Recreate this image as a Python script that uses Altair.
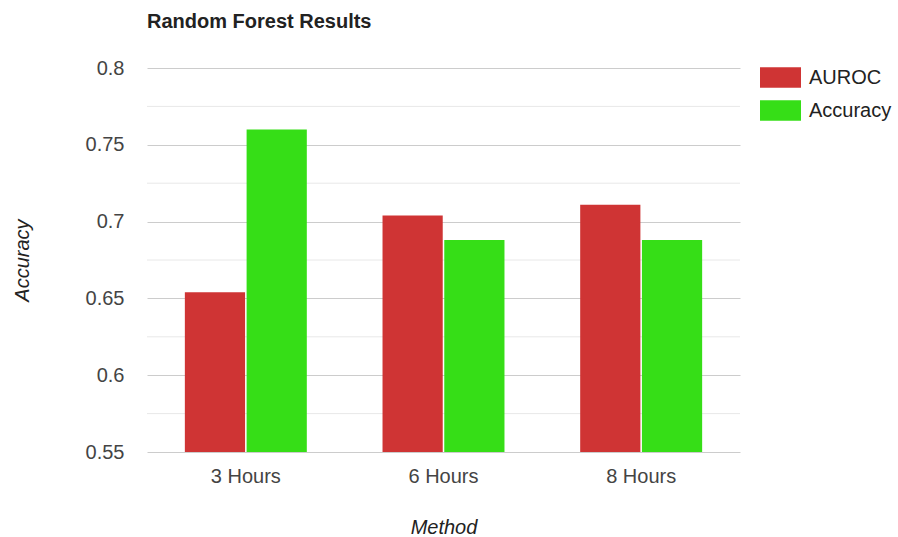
import altair as alt
import pandas as pd

# Random forest scores per prediction window
methods = ["3 Hours", "6 Hours", "8 Hours"]
series = ["AUROC", "Accuracy"]
auroc = [0.654, 0.704, 0.711]
accuracy = [0.760, 0.688, 0.688]

major_ticks = [0.55, 0.6, 0.65, 0.7, 0.75, 0.8]
minor_ticks = [0.575, 0.625, 0.675, 0.725, 0.775]
colors = ["#cf3434", "#36de17"]

rows = []
for m, a, c in zip(methods, auroc, accuracy):
    rows.append({"Method": m, "Series": "AUROC", "Value": a})
    rows.append({"Method": m, "Series": "Accuracy", "Value": c})
df = pd.DataFrame(rows)
minor_df = pd.DataFrame({"tick": minor_ticks})

W, H = 593, 384
FONT = "Liberation Sans"

y_scale = alt.Scale(domain=[0.55, 0.8], zero=False, nice=False)
y_axis = alt.Axis(
    title="Accuracy",
    values=major_ticks,
    format=".2~f",
    labelFont=FONT,
    labelFontSize=20,
    labelColor="#444444",
    labelPadding=23,
    ticks=False,
    domain=False,
    gridColor="#cccccc",
    gridWidth=1,
    titleFont=FONT,
    titleFontSize=20,
    titleFontStyle="italic",
    titleFontWeight="normal",
    titleColor="#222222",
    titleAngle=270,
    titleX=-125,
    titleY=H / 2,
    titleBaseline="middle",
    titleAlign="center",
)

# light minor gridlines between the labelled ones
minor = alt.Chart(minor_df).mark_rule(color="#e8e8e8", strokeWidth=1).encode(
    y=alt.Y("tick:Q", scale=y_scale, axis=y_axis)
)

bars = alt.Chart(df).mark_bar().encode(
    x=alt.X(
        "Method:N",
        sort=methods,
        scale=alt.Scale(paddingInner=0.383, paddingOuter=0.1915),
        axis=alt.Axis(
            title="Method",
            labelAngle=0,
            labelFont=FONT,
            labelFontSize=20,
            labelColor="#444444",
            labelPadding=14,
            ticks=False,
            domain=False,
            titleFont=FONT,
            titleFontSize=20,
            titleFontStyle="italic",
            titleFontWeight="normal",
            titleColor="#222222",
            titleX=W / 2,
            titleY=75,
            titleBaseline="middle",
        ),
    ),
    xOffset=alt.XOffset("Series:N", sort=series, scale=alt.Scale(paddingInner=0.025)),
    y=alt.Y("Value:Q", scale=y_scale, axis=y_axis),
    y2=alt.datum(0.55),
    color=alt.Color(
        "Series:N",
        sort=series,
        scale=alt.Scale(domain=series, range=colors),
        legend=alt.Legend(
            title=None,
            orient="none",
            legendX=613,
            legendY=-11,
            symbolType="M-1,-0.5L1,-0.5L1,0.5L-1,0.5Z",
            symbolSize=1681,
            symbolStrokeWidth=0,
            symbolOpacity=1,
            labelFont=FONT,
            labelFontSize=20,
            labelColor="#222222",
            labelOffset=8,
            rowPadding=2,
        ),
    ),
)

chart = (
    alt.layer(minor, bars)
    .properties(
        width=W,
        height=H,
        title=alt.TitleParams(
            "Random Forest Results",
            anchor="start",
            frame="group",
            font=FONT,
            fontSize=20,
            fontWeight="bold",
            color="#222222",
            offset=25,
        ),
        autosize=alt.AutoSizeParams(type="none"),
        padding={"left": 147, "top": 68, "right": 158, "bottom": 85},
    )
    .configure_view(stroke=None)
)

chart.save("out.html", embed_options={"renderer": "svg", "actions": False})
